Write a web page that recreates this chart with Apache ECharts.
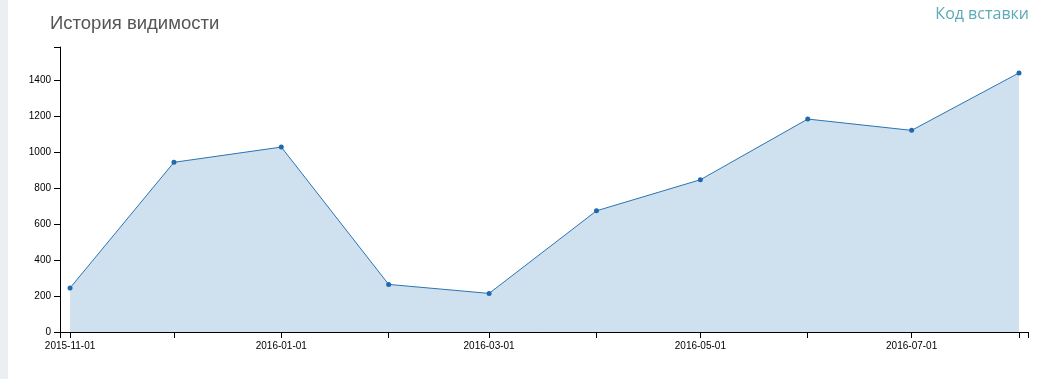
<!DOCTYPE html>
<html>
<head>
<meta charset="utf-8">
<script src="https://cdn.jsdelivr.net/npm/echarts@6/dist/echarts.min.js"></script>
<style>
html,body{margin:0;padding:0;background:#fff;}
#strip{position:absolute;left:0;top:0;width:8px;height:379px;background:#eceff1;}
#chart{position:absolute;left:0;top:0;width:1039px;height:379px;}
</style>
</head>
<body>
<div id="strip"></div>
<div id="chart"></div>
<script>
const dates = ['2015-11-01','2015-12-01','2016-01-01','2016-02-01','2016-03-01','2016-04-01','2016-05-01','2016-06-01','2016-07-01','2016-08-01'];
const visibility = [245, 945, 1030, 265, 215, 675, 848, 1186, 1123, 1443];
const titleText = 'История видимости';
const linkText = 'Код вставки';

const DAY = 86400000;
const toTime = s => { const p = s.split('-').map(Number); return new Date(p[0], p[1]-1, p[2]).getTime(); };
const xMin = toTime(dates[0]) - 2.9 * DAY;
const xMax = toTime(dates[dates.length-1]) + 2.6 * DAY;
const yMax = Math.max(...visibility) * 1.1;

const chart = echarts.init(document.getElementById('chart'), null, {renderer:'canvas'});
chart.setOption({
  animation:false,
  backgroundColor:'transparent',
  title:[
    {text:titleText, left:45, top:9, textStyle:{fontFamily:'Liberation Sans, Arial, sans-serif', fontSize:18.5, fontWeight:'normal', color:'#555'}},
    {text:linkText, right:5, top:1, textStyle:{fontFamily:'Open Sans, sans-serif', fontSize:16, fontWeight:'normal', color:'#5aabb3'}}
  ],
  grid:{left:60, right:11, top:47, bottom:47, containLabel:false},
  xAxis:{
    type:'time', min:xMin, max:xMax,
    minInterval:28*DAY, maxInterval:31*DAY,
    axisLine:{show:true, lineStyle:{color:'#000', width:1}},
    axisTick:{show:true, inside:false, length:6, lineStyle:{color:'#000'}},
    splitLine:{show:false},
    axisLabel:{
      color:'#000', fontSize:10, fontFamily:'Liberation Sans, Arial, sans-serif', margin:9,
      showMinLabel:true, showMaxLabel:true, hideOverlap:false,
      formatter:function(v){
        const d = new Date(v);
        if (d.getDate() !== 1 || d.getMonth() % 2 !== 0) return '';
        const mm = String(d.getMonth()+1).padStart(2,'0');
        return d.getFullYear() + '-' + mm + '-01';
      }
    }
  },
  yAxis:{
    type:'value', min:0, max:yMax, interval:200,
    axisLine:{show:true, lineStyle:{color:'#000', width:1}},
    axisTick:{show:true, inside:false, length:6, lineStyle:{color:'#000'}},
    splitLine:{show:false},
    axisLabel:{
      color:'#000', fontSize:10, fontFamily:'Liberation Sans, Arial, sans-serif', margin:9,
      formatter:function(v){ return (v % 200 === 0) ? String(v) : ''; }
    }
  },
  series:[{
    type:'line',
    data:dates.map((d,i)=>[toTime(d), visibility[i]]),
    symbol:'circle', symbolSize:5,
    itemStyle:{color:'#1f69ad'},
    lineStyle:{color:'#2a74b4', width:1},
    areaStyle:{color:'#cfe1ef', opacity:1},
    z:2
  }]
});
</script>
</body>
</html>
